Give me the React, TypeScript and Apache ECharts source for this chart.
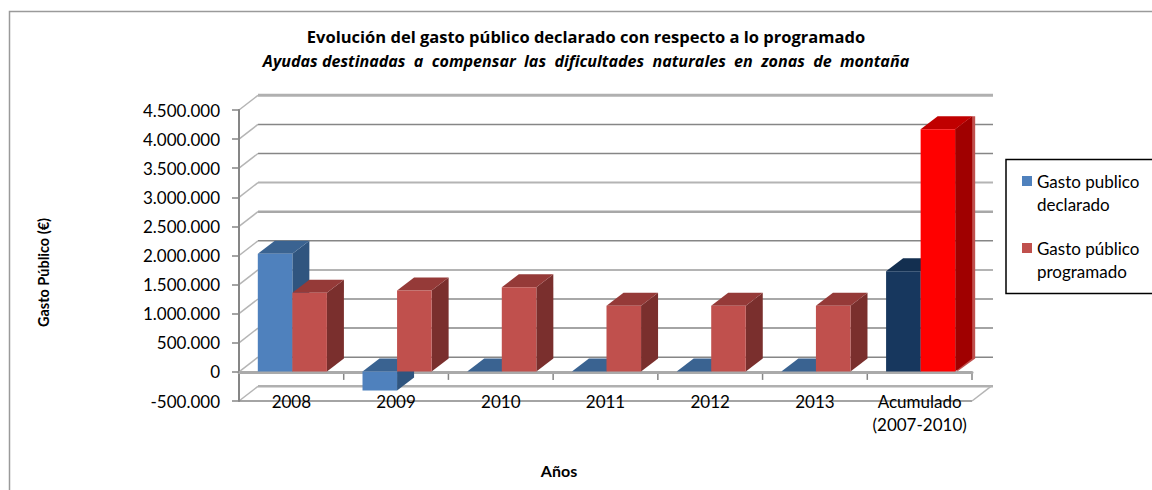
import React, { useEffect, useRef } from "react";
import * as echarts from "echarts";

const titleText = "Evolución del gasto público declarado con respecto a lo programado";
const subtitleText = "Ayudas destinadas  a  compensar  las  dificultades  naturales  en  zonas  de  montaña";
const categories = ["2008", "2009", "2010", "2011", "2012", "2013", "Acumulado\n(2007-2010)"];
const declarado = [2020000, -327000, 0, 0, 0, 0, 1720000];
const programado = [1350000, 1390000, 1445000, 1130000, 1130000, 1130000, 4160000];
const yTicks = [-500000, 0, 500000, 1000000, 1500000, 2000000, 2500000, 3000000, 3500000, 4000000, 4500000];
const declaradoName = "Gasto publico\ndeclarado";
const programadoName = "Gasto público\nprogramado";

// wall line look, from -500.000 upward
const wallColors = ["#b0b0b0", "#868686", "#868686", "#a8a8a8", "#b4b4b4", "#868686", "#a8a8a8", "#b4b4b4", "#868686", "#868686", "#b0b0b0"];
const wallWidths = [2.5, 1.5, 1.5, 2, 2, 1.5, 2.5, 2, 1.5, 1.5, 3];

const BLUE = { front: "#4F81BD", top: "#3A6391", side: "#30557F" };
const RED = { front: "#C0504D", top: "#953A38", side: "#7A2F2D" };
const NAVY = { front: "#17375E", top: "#132F50", side: "#10294A" };
const BRIGHT = { front: "#FF0000", top: "#C00000", side: "#A00000" };

const DX = 17;
const DY = 13;
const WALL_DX = 19;
const WALL_DY = 14.7;
const FONT = "Lato, sans-serif";
const TITLE_FONT = "'Open Sans', sans-serif";
const LEGEND_ICON = "path://M0 0L0.01 0L0 0.01ZM0 6.5L10 6.5L10 16.5L0 16.5ZM0 46L0.01 46L0 45.99Z";

function wallItem(params: any, api: any) {
  const v = api.value(1);
  const g = params.coordSys;
  const y = api.coord([0, v])[1];
  const i = params.dataIndex;
  const stroke = { stroke: wallColors[i], lineWidth: wallWidths[i] };
  const children: any[] = [
    { type: "line", shape: { x1: g.x + WALL_DX, y1: y - WALL_DY, x2: g.x + g.width + WALL_DX + 2, y2: y - WALL_DY }, style: stroke },
    { type: "line", shape: { x1: g.x, y1: y, x2: g.x + WALL_DX, y2: y - WALL_DY }, style: { stroke: "#b5b5b5", lineWidth: 1.5 } },
  ];
  if (v === yTicks[0]) {
    children.push({ type: "line", shape: { x1: g.x, y1: y, x2: g.x + g.width, y2: y }, style: { stroke: "#868686", lineWidth: 1.5 } });
    children.push({ type: "line", shape: { x1: g.x + g.width, y1: y, x2: g.x + g.width + WALL_DX, y2: y - WALL_DY }, style: { stroke: "#b5b5b5", lineWidth: 1.5 } });
  }
  if (v === 0) {
    // category ticks, hanging below the zero line
    categories.forEach((_, k) => {
      const x = api.coord([k, 0])[0] + api.size([1, 0])[0] / 2;
      children.push({ type: "line", shape: { x1: x, y1: y + 1, x2: x, y2: y + 8 }, style: { stroke: "#868686", lineWidth: 1.5 } });
    });
  }
  return { type: "group", children };
}

function barItem(seriesOffset: number, normal: any, last: any, lastIndex: number) {
  return (params: any, api: any) => {
    const idx = api.value(0);
    const v = api.value(1);
    const c = idx === lastIndex ? last : normal;
    const band = api.size([1, 0])[0];
    const w = band * 0.33;
    const center = api.coord([idx, 0])[0] + 1;
    const x0 = center + seriesOffset * w;
    const x1 = x0 + w;
    const y0 = api.coord([idx, 0])[1] - 0.5;
    const yv = api.coord([idx, v])[1] - 0.5;
    const top = Math.min(y0, yv);
    const bottom = Math.max(y0, yv);
    const children: any[] = [];
    if (idx === lastIndex && last === BRIGHT) {
      children.push({
        type: "polygon",
        shape: { points: [[x1, top], [x1 + DX, top - DY], [x1 + DX + 3, top - DY], [x1 + DX + 3, bottom - DY], [x1 + 2, bottom]] },
        style: { fill: "#C0504D" },
      });
    }
    children.push({
      type: "polygon",
      shape: { points: [[x1, top], [x1 + DX, top - DY], [x1 + DX, bottom - DY], [x1, bottom]] },
      style: { fill: c.side },
    });
    children.push({
      type: "polygon",
      shape: { points: [[x0, top], [x0 + DX, top - DY], [x1 + DX, top - DY], [x1, top]] },
      style: { fill: c.top },
    });
    if (bottom > top) {
      children.push({
        type: "rect",
        shape: { x: x0, y: top, width: w, height: bottom - top },
        style: { fill: c.front },
      });
    }
    return { type: "group", children };
  };
}

export default function App() {
  const ref = useRef<HTMLDivElement>(null);
  useEffect(() => {
    const chart = echarts.init(ref.current!, null, { renderer: "svg" });
    chart.setOption({
      animation: false,
      backgroundColor: "#ffffff",
      title: {
        text: titleText,
        subtext: subtitleText,
        left: 581,
        top: 23,
        textAlign: "center",
        itemGap: 8,
        textStyle: { fontFamily: TITLE_FONT, fontSize: 16.5, fontWeight: "bold", color: "#000" },
        subtextStyle: { fontFamily: TITLE_FONT, fontSize: 16.1, fontWeight: "bold", fontStyle: "italic", color: "#000" },
      },
      legend: {
        orient: "vertical",
        left: 1022,
        top: 169.5,
        itemWidth: 10,
        itemHeight: 46,
        itemGap: 21,
        padding: 0,
        icon: LEGEND_ICON,
        selectedMode: false,
        textStyle: { fontFamily: FONT, fontSize: 17, color: "#000", lineHeight: 23 },
        data: [declaradoName, programadoName],
      },
      grid: { left: 239, top: 110, width: 733, height: 291, outerBoundsMode: "none" },
      xAxis: {
        type: "category",
        data: categories,
        name: "Años",
        nameLocation: "middle",
        nameGap: 61,
        nameMoveOverlap: false,
        nameTextStyle: { fontFamily: FONT, fontSize: 16, fontWeight: "bold", color: "#000", padding: [0, 93, 0, 0] },
        axisLine: { onZero: true, lineStyle: { color: "#aaaaaa", width: 3 } },
        axisTick: { show: false },
        axisLabel: { interval: 0, margin: -11, fontFamily: FONT, fontSize: 17, color: "#000", lineHeight: 23 },
        splitLine: { show: false },
      },
      yAxis: {
        type: "value",
        min: -500000,
        max: 4500000,
        interval: 500000,
        name: "Gasto Público (€)",
        nameLocation: "middle",
        nameRotate: 90,
        nameGap: 188,
        nameMoveOverlap: false,
        nameTextStyle: { fontFamily: FONT, fontSize: 14.5, fontWeight: "bold", color: "#000", padding: [0, 34, 0, 0] },
        axisLine: { show: true, onZero: false, lineStyle: { color: "#868686", width: 2 } },
        axisTick: { show: true, length: 7, lineStyle: { color: "#868686", width: 1.5 } },
        axisLabel: {
          margin: 19,
          fontFamily: FONT,
          fontSize: 17,
          color: "#000",
          formatter: (v: number) => v.toLocaleString("de-DE"),
        },
        splitLine: { show: false },
      },
      graphic: [
        { type: "rect", z: -1, shape: { x: 9.5, y: 11.5, width: 1200, height: 520 }, style: { fill: "none", stroke: "#9a9a9a", lineWidth: 1.5 }, silent: true },
        { type: "rect", z: -1, shape: { x: 1006, y: 159.5, width: 200, height: 134 }, style: { fill: "#fff", stroke: "#000", lineWidth: 1.5 }, silent: true },
      ],
      series: [
        {
          type: "custom",
          name: "walls",
          silent: true,
          clip: false,
          z: 0,
          renderItem: wallItem,
          encode: { x: 0, y: 1 },
          data: yTicks.map((v) => [0, v]),
        },
        {
          type: "custom",
          name: declaradoName,
          clip: false,
          z: 2,
          itemStyle: { color: BLUE.front },
          renderItem: barItem(-1, BLUE, NAVY, categories.length - 1),
          encode: { x: 0, y: 1 },
          data: declarado.map((v, i) => [i, v]),
        },
        {
          type: "custom",
          name: programadoName,
          clip: false,
          z: 3,
          itemStyle: { color: RED.front },
          renderItem: barItem(0, RED, BRIGHT, categories.length - 1),
          encode: { x: 0, y: 1 },
          data: programado.map((v, i) => [i, v]),
        },
      ],
    });
    return () => chart.dispose();
  }, []);
  return <div ref={ref} style={{ position: "absolute", left: 0, top: 0, width: 1152, height: 490 }} />;
}
